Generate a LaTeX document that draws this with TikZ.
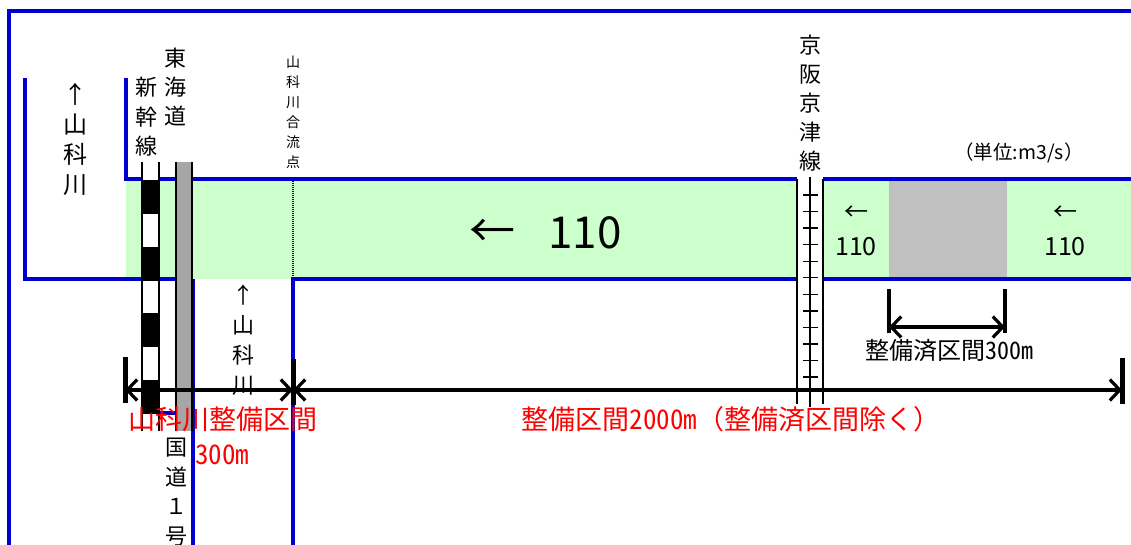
\documentclass[tikz,border=0pt]{standalone}
\usepackage{fontspec}
\setmainfont{Noto Sans CJK JP}
\newfontfamily\jph[RawFeature=+hwid]{Noto Sans CJK JP}
\newfontfamily\jpf{Noto Sans CJK JP}
\usetikzlibrary{arrows.meta}
\definecolor{rb}{RGB}{0,0,204}
\definecolor{rg}{RGB}{204,255,204}
\definecolor{gblock}{RGB}{192,192,192}
\definecolor{gstrip}{RGB}{166,166,166}
\definecolor{rtx}{RGB}{255,0,0}
\begin{document}
\begin{tikzpicture}[x=1pt,y=-1pt,
  wall/.style={draw=rb,line width=3.8pt},
  railedge/.style={draw=black,line width=2pt},
  tipb/.tip={Straight Barb[length=10pt,width=21pt,line width=3.2pt]},
  dimline/.style={line width=3.2pt,tipb-tipb},
  dimbar/.style={line width=5pt},
  vt/.style={inner sep=0pt,align=center},
  lbl/.style={inner sep=0pt},
  redtxt/.style={inner sep=0pt,text=rtx,font=\jph\fontsize{27}{30}\selectfont}
]
\useasboundingbox (0,0) rectangle (1131,545);
\fill[white] (0,0) rectangle (1131,545);
% water (green)
\fill[rg] (126,179) rectangle (797,279);
\fill[rg] (823,179) rectangle (1131,279);
\fill[gblock] (889,181) rectangle (1007,277);
% confluence point (thin dotted)
\draw[rb,line width=1.3pt,dash pattern=on 1.2pt off 0.8pt] (293,179) -- (293,279);
% walls
\draw[wall,line width=3.2pt] (9,545) -- (9,11) -- (1131,11);
\draw[wall] (25,78) -- (25,279) -- (142,279);
\draw[wall] (126,78) -- (126,179) -- (142,179);
\draw[wall] (159,179) -- (176,179);
\draw[wall] (159,279) -- (176,279);
\draw[wall] (192,179) -- (797,179);
\draw[wall] (823,179) -- (1131,179);
\draw[wall] (193,545) -- (193,279);
\draw[wall] (293,545) -- (293,279) -- (797,279);
\draw[wall] (823,279) -- (1131,279);
\draw[wall] (159,413) -- (176,413);
% Shinkansen strip
\fill[white] (142,162) rectangle (159,431);
\foreach \s in {180,246.5,313,379.5}
  \fill[black] (142,\s) rectangle (159,\s+34);
\draw[railedge] (142,162) -- (142,431);
\draw[railedge] (159,162) -- (159,431);
% Tokaido strip
\fill[gstrip] (176,162) rectangle (192,431);
\draw[railedge,line width=1.6pt] (176,162) -- (176,431);
\draw[railedge,line width=1.6pt] (192,162) -- (192,431);
% Keihan Keishin line
\draw[railedge] (797,179) -- (797,404);
\draw[railedge] (823,179) -- (823,404);
\draw[railedge] (810,177) -- (810,407);
\foreach \k in {0,...,11}
  \draw[line width=1.3pt] (803,195+16.55*\k) -- (818,195+16.55*\k);
% dimension lines
\coordinate (dA) at (125,390);
\coordinate (dB) at (293,390);
\coordinate (dC) at (1122,390);
\coordinate (fA) at (889,327);
\coordinate (fB) at (1005,327);
\draw[dimbar] (125,357) -- (125,403);
\draw[dimbar] (293,359) -- (293,405);
\draw[dimbar] (1122,358) -- (1122,404);
\draw[dimbar,line width=4.5pt] (889,289) -- (889,333);
\draw[dimbar,line width=4.5pt] (1005,289) -- (1005,333);
\draw[dimline] (dA) -- (dB);
\draw[dimline] (dB) -- (dC);
\draw[dimline] (fA) -- (fB);
% texts
\node[vt,font=\fontsize{24}{30}\selectfont] (t1) at (75,139) {↑\\山\\科\\川};
\node[vt,font=\fontsize{22}{29.5}\selectfont] (t2) at (146,117) {新\\幹\\線};
\node[vt,font=\fontsize{22}{29}\selectfont] (t3) at (175,87) {東\\海\\道};
\node[vt,font=\fontsize{14}{20}\selectfont] (t4) at (293,112) {山\\科\\川\\合\\流\\点};
\node[vt,font=\fontsize{22}{29}\selectfont] (t5) at (810,103) {京\\阪\\京\\津\\線};
\node[vt,font=\fontsize{22}{30}\selectfont] (t6) at (243,340) {↑\\山\\科\\川};
\node[vt,font=\fontsize{22}{29.5}\selectfont] (t7) at (176,492) {国\\道\\１\\号};
\node[lbl,font=\fontsize{46}{50}\selectfont] (t8) at (492,233) {←};
\node[lbl,font=\fontsize{44}{50}\selectfont] (t9) at (585,233) {110};
\node[lbl,font=\fontsize{24}{28}\selectfont] (t10) at (856,213) {←};
\node[lbl,font=\fontsize{25}{28}\selectfont] (t11) at (856,247) {110};
\node[lbl,font=\fontsize{24}{28}\selectfont] (t12) at (1065,213) {←};
\node[lbl,font=\fontsize{25}{28}\selectfont] (t13) at (1065,247) {110};
\node[lbl,font=\jpf\fontsize{19.5}{22}\selectfont] (t14) at (1019,153) {（単位:m3/s）};
\node[lbl,font=\jph\fontsize{24}{28}\selectfont] (t15) at (949,350) {整備済区間300m};
\node[redtxt] (t16) at (223,419) {山科川整備区間};
\node[redtxt,anchor=west] (t17) at (195,455) {300m};
\node[redtxt] (t18) at (731,419) {整備区間2000m{\jpf （}整備済区間除く{\jpf ）}};
\end{tikzpicture}
\end{document}
